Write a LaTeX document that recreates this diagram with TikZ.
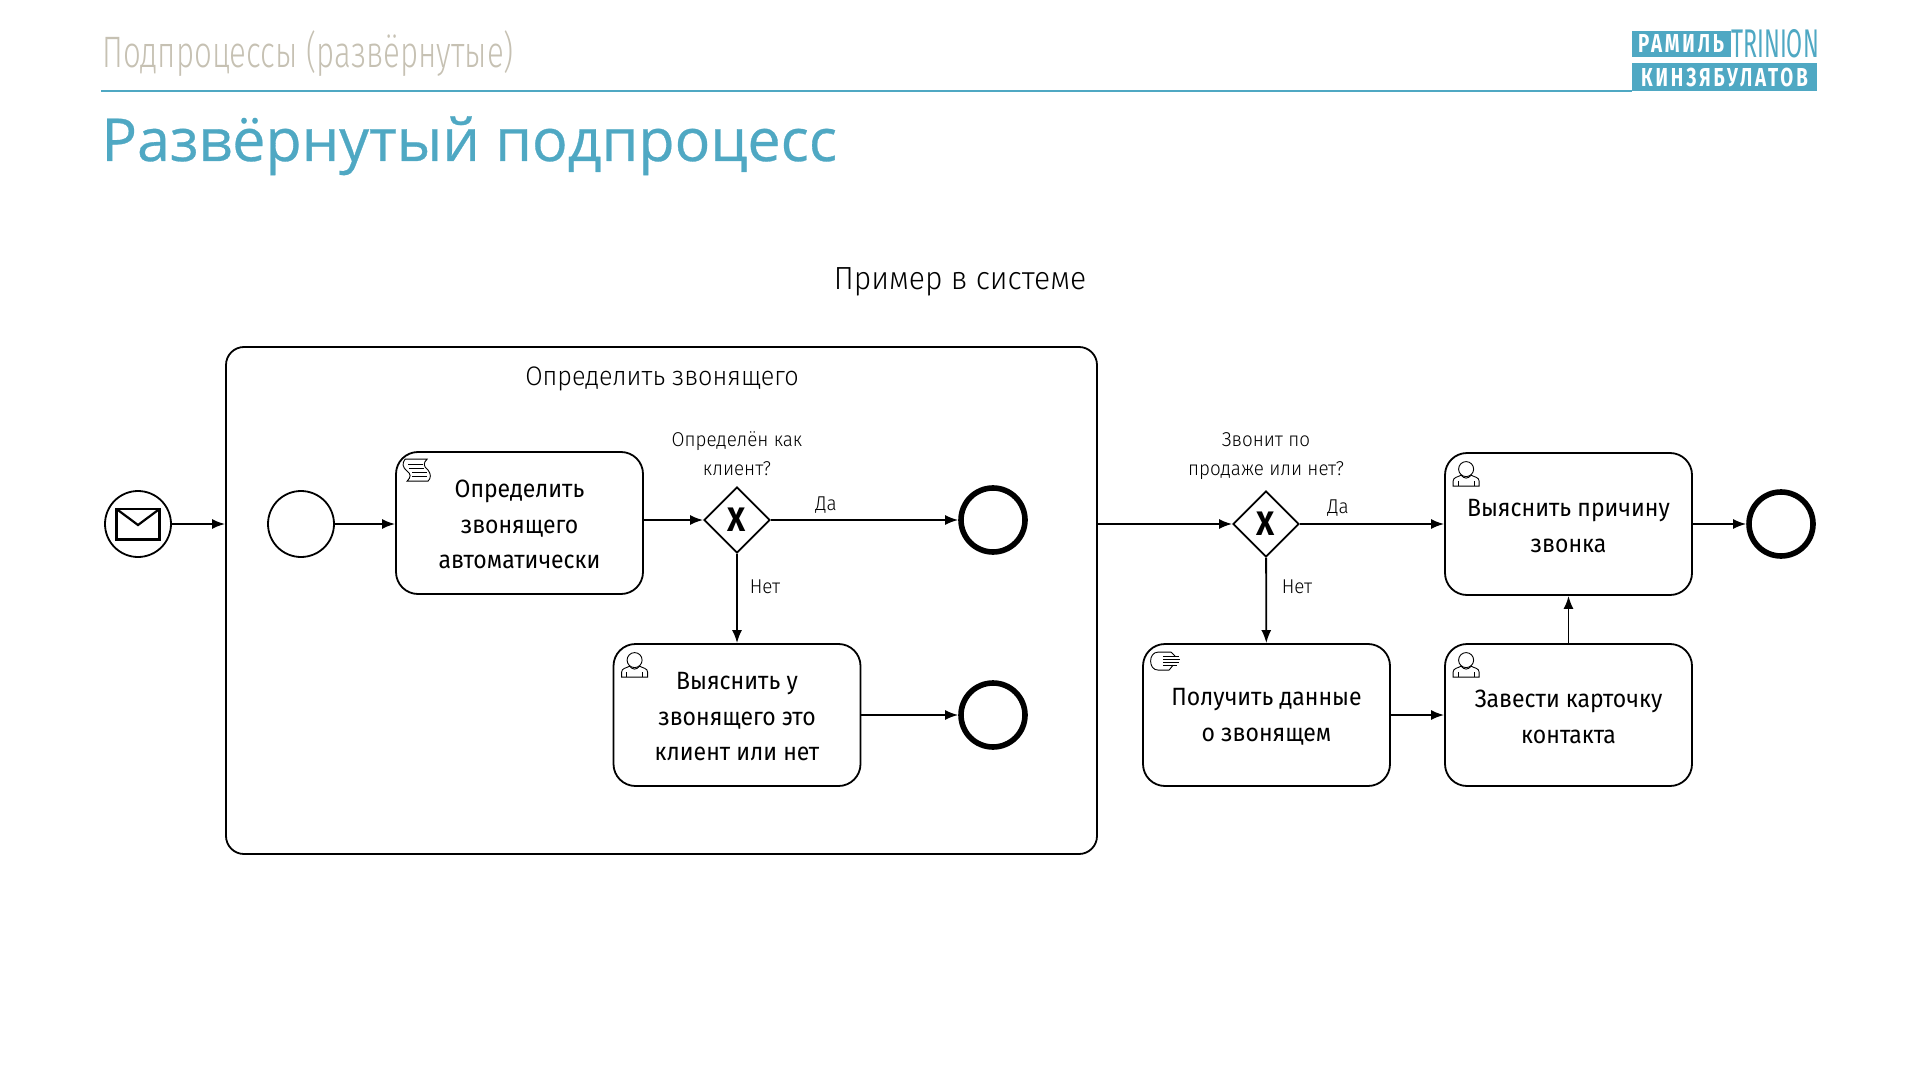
\documentclass[tikz,border=0pt]{standalone}
\usepackage{fontspec}
\setmainfont[FakeStretch=0.92]{Fira Sans}
\newfontfamily\lightfont[FakeStretch=0.94]{Fira Sans Light}
\newfontfamily\titlefont[FakeBold=0.5]{Open Sans}
\newfontfamily\narrowfont[FakeStretch=0.71]{Fira Sans Light}
\newfontfamily\logofont[FakeStretch=0.72,LetterSpace=11]{Fira Sans Bold}
\newfontfamily\logonarrow[FakeStretch=0.58]{Fira Sans}
\usetikzlibrary{arrows.meta,shapes.geometric}
\definecolor{tealbrand}{HTML}{4FA8C3}
\definecolor{greyhead}{HTML}{C6C1B3}
\newcommand{\firstline}{\rule{0pt}{10.5pt}}
\tikzset{
  flow/.style={-{Latex[length=6.5pt,width=5pt]},line width=0.9pt},
  task/.style={draw,line width=0.9pt,rounded corners=11pt,minimum width=123.5pt,minimum height=71pt,inner sep=0pt,align=center,font=\fontsize{12.5}{17.75}\selectfont},
  startev/.style={draw,circle,line width=0.9pt,minimum size=33pt,inner sep=0pt},
  endev/.style={draw,circle,line width=2.8pt,minimum size=32pt,inner sep=0pt},
  gateway/.style={draw,diamond,line width=0.9pt,minimum width=33pt,minimum height=33pt,inner sep=0pt,font=\fontsize{17}{17}\bfseries\selectfont},
  cond/.style={font=\lightfont\fontsize{10}{14.5}\selectfont,align=center},
  icon/.style={line width=0.45pt},
  usericon/.pic={
    \draw[icon] (22,17) circle (7.5);
    \draw[icon,fill=white] (9,34) -- (9,29) .. controls (9,25) and (14,25) .. (17,23) .. controls (20,27) and (24,27) .. (27,23) .. controls (30,25) and (35,25) .. (35,29) -- (35,34) -- cycle;
    \draw[icon] (14,29) -- (14,34) (30,29) -- (30,34);
  },
  scripticon/.pic={
    \draw[icon] (12,20) .. controls (7,16) and (7,12) .. (10,8) -- (32,8) .. controls (28,12) and (28,15) .. (33,19) .. controls (36,23) and (36,27) .. (33,30) -- (12,30) .. controls (16,26) and (16,23) .. (12,20) -- cycle;
    \draw[icon] (13,13) -- (28,13) (14,17) -- (29,17) (17,21) -- (32,21) (17,25) -- (32,25);
  },
  handicon/.pic={
    \draw[icon] (29,9) -- (16,9) .. controls (6,9) and (6,27) .. (16,27) -- (27,27);
    \draw[icon] (21,13) -- (37,13) (21,16) -- (38,16) (21,19) -- (37,19) (21,22) -- (35,22);
    \draw[icon] (29,9) -- (33,13) (27,27) -- (31,22);
  },
  mailicon/.pic={
    \draw[line width=1.1pt] (-21.5,-15) rectangle (21.5,15.5);
    \draw[line width=1.1pt] (-21.5,-15) -- (0,1) -- (21.5,-15);
  }
}
\begin{document}
\begin{tikzpicture}[x=0.5pt,y=-0.5pt]
  \useasboundingbox (0,0) rectangle (1920,1080);
  \node[anchor=base west,inner sep=0pt,text=greyhead,font=\narrowfont\fontsize{22}{22}\selectfont] (subhead) at (102,68) {Подпроцессы (развёрнутые)};
  \node[anchor=base west,inner sep=0pt,text=tealbrand,font=\titlefont\fontsize{29.6}{29.6}\selectfont] (headline) at (101,161) {Развёрнутый подпроцесс};
  \node[fill=tealbrand,minimum width=49.5pt,minimum height=13pt,inner sep=0pt,text=white,font=\logofont\fontsize{13}{13}\selectfont] (logotop) at (1681,44) {РАМИЛЬ};
  \node[anchor=west,inner sep=0pt,text=tealbrand,font=\logonarrow\fontsize{20}{20}\selectfont] (logotrin) at (1731,44) {TRINION};
  \node[fill=tealbrand,minimum width=92.5pt,minimum height=14pt,inner sep=0pt,text=white,font=\logofont\fontsize{13}{13}\selectfont] (logobot) at (1724.5,77) {КИНЗЯБУЛАТОВ};
  \draw[tealbrand,line width=1pt] (headline.west |- logobot.south) -- (logobot.south west);
  \node[font=\lightfont\fontsize{16}{16}\selectfont] (example) at (960,282) {Пример в системе};

  \node[draw,line width=0.9pt,rounded corners=9pt,minimum width=435.5pt,minimum height=253.5pt] (subproc) at (661.5,600.5) {};
  \node[font=\lightfont\fontsize{13.4}{13.4}\selectfont] (subtitle) at (662,379) {Определить звонящего};

  \node[startev] (mailstart) at (138,524) {};
  \pic at (mailstart) {mailicon};
  \node[startev] (innerstart) at (301,524) {};
  \node[task] (autotask) at (519.5,523) {\firstline Определить\\звонящего\\автоматически};
  \pic at (autotask.north west) {scripticon};
  \node[gateway] (gwclient) at (737,520) {X};
  \node[endev] (endyes) at (993,520) {};
  \node[task] (asktask) at (737,715) {\firstline Выяснить у\\звонящего это\\клиент или нет};
  \pic at (asktask.north west) {usericon};
  \node[endev] (endno) at (993,715) {};

  \node[gateway] (gwsale) at (1266,524) {X};
  \node[task] (reasontask) at (1568.5,524) {\firstline Выяснить причину\\звонка};
  \pic at (reasontask.north west) {usericon};
  \node[task] (datatask) at (1266.5,715) {\firstline Получить данные\\о звонящем};
  \pic at (datatask.north west) {handicon};
  \node[task] (cardtask) at (1568.5,715) {\firstline Завести карточку\\контакта};
  \pic at (cardtask.north west) {usericon};
  \node[endev] (endmain) at (1781,524) {};

  \draw[flow] (mailstart) -- (mailstart -| subproc.west);
  \draw[flow] (innerstart) -- (innerstart -| autotask.west);
  \draw[flow] (gwclient -| autotask.east) -- (gwclient);
  \draw[flow] (gwclient) -- (endyes);
  \draw[flow] (gwclient) -- (asktask);
  \draw[flow] (asktask) -- (endno);
  \draw[flow] (gwsale -| subproc.east) -- (gwsale);
  \draw[flow] (gwsale) -- (reasontask);
  \draw[flow] (gwsale) -- (datatask);
  \draw[flow] (datatask) -- (cardtask);
  \draw[flow] (cardtask) -- (reasontask);
  \draw[flow] (reasontask) -- (endmain);

  \node[cond] (askclient) at (737,454) {Определён как\\клиент?};
  \node[cond] (yesclient) at (826,505) {Да};
  \node[cond] (noclient) at (765,587) {Нет};
  \node[cond] (asksale) at (1266,456) {Звонит по\\продаже или нет?};
  \node[cond] (yessale) at (1338,508) {Да};
  \node[cond] (nosale) at (1297,587) {Нет};
\end{tikzpicture}
\end{document}
